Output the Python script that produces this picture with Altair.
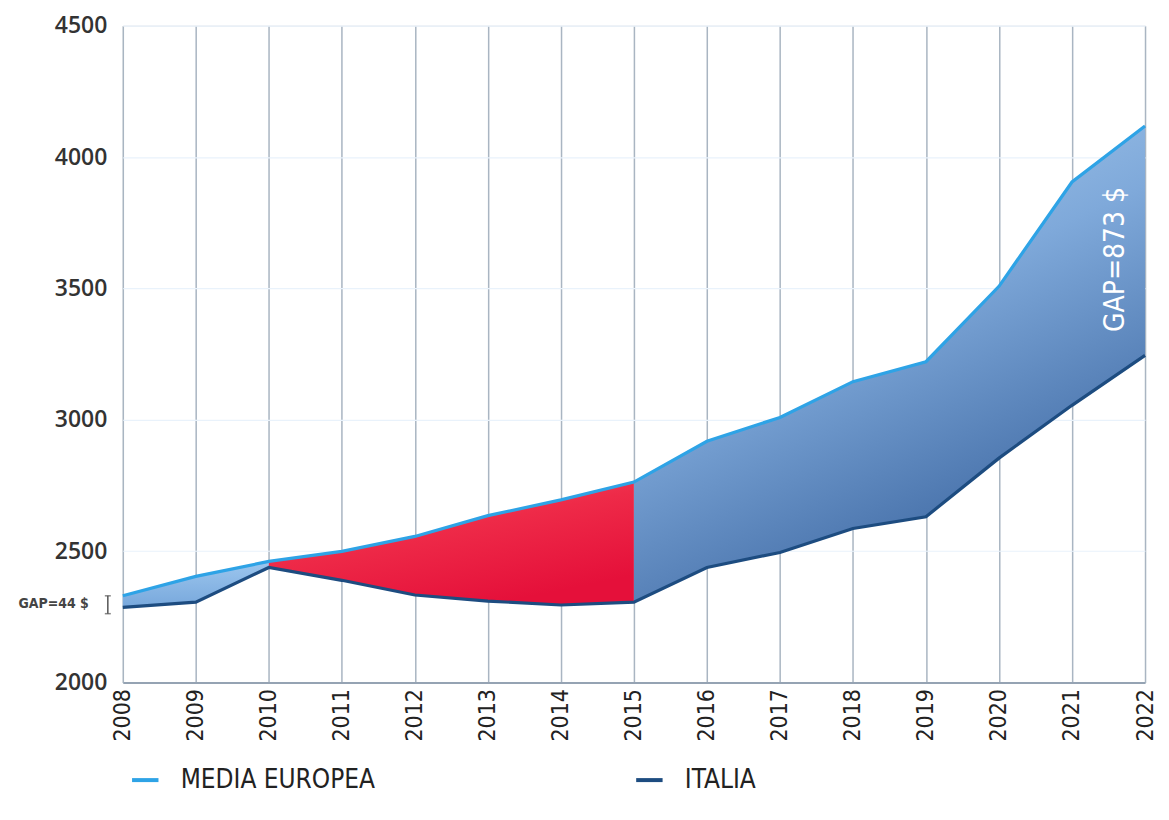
import altair as alt
import pandas as pd

years = list(range(2008, 2023))
europa = [2330, 2404, 2461, 2499, 2556, 2635, 2695, 2763, 2918, 3009, 3145, 3221, 3508, 3905, 4118]
italia = [2286, 2306, 2438, 2389, 2333, 2310, 2295, 2306, 2438, 2495, 2586, 2631, 2854, 3055, 3245]
series_names = ["MEDIA EUROPEA", "ITALIA"]
series_colors = ["#2ea3e6", "#1d4c80"]

gap_labels = ["GAP=44 $", "GAP=873 $"]

COND = "Liberation Sans Narrow, DejaVu Sans Condensed, Roboto, sans-serif"

wide = pd.DataFrame({"year": years, "europa": europa, "italia": italia})
seg1 = wide[(wide.year >= 2008) & (wide.year <= 2010)]
seg2 = wide[(wide.year >= 2010) & (wide.year <= 2015)]
seg3 = wide[(wide.year >= 2015) & (wide.year <= 2022)]

long = pd.DataFrame({
    "year": years * 2,
    "value": europa + italia,
    "serie": [series_names[0]] * len(years) + [series_names[1]] * len(years),
})

xenc = alt.X("year:Q", scale=alt.Scale(domain=[2008, 2022], nice=False, zero=False),
             axis=alt.Axis(values=years, format="d", labelAngle=-90, title=None,
                           labelFont=COND, labelFontSize=23, labelColor="#222",
                           grid=True, gridColor="#a9b5c2", gridWidth=1.5,
                           ticks=False, domainColor="#95a3b3", domainWidth=2,
                           labelPadding=6))
yenc = alt.Y("europa:Q", scale=alt.Scale(domain=[2000, 4500], nice=False, zero=False),
             axis=alt.Axis(values=[2000, 2500, 3000, 3500, 4000, 4500], format="d", title=None,
                           labelFont="Open Sans", labelFontWeight=600, labelFontSize=23,
                           labelColor="#333", grid=True, gridColor="#e9f2fb", gridWidth=1.2,
                           ticks=False, domain=False, labelPadding=16))

blue_grad = alt.Gradient(gradient="linear",
                         stops=[alt.GradientStop(color="#b4d6f4", offset=0),
                                alt.GradientStop(color="#7fa9da", offset=0.5),
                                alt.GradientStop(color="#3e68a2", offset=1)],
                         x1=0, y1=0, x2=0.5, y2=1)
blue_grad_small = alt.Gradient(gradient="linear",
                               stops=[alt.GradientStop(color="#9cc6ee", offset=0),
                                      alt.GradientStop(color="#78a8dc", offset=1)],
                               x1=0, y1=0, x2=0, y2=1)
red_grad = alt.Gradient(gradient="linear",
                        stops=[alt.GradientStop(color="#f5566d", offset=0),
                               alt.GradientStop(color="#ee2a48", offset=0.5),
                               alt.GradientStop(color="#e5103a", offset=1)],
                        x1=0, y1=0, x2=0.6, y2=1)

a1 = alt.Chart(seg1).mark_area(color=blue_grad_small).encode(x=xenc, y=yenc, y2="italia:Q")
a2 = alt.Chart(seg2).mark_area(color=red_grad).encode(x=xenc, y=yenc, y2="italia:Q")
a3 = alt.Chart(seg3).mark_area(color=blue_grad).encode(x=xenc, y=yenc, y2="italia:Q")

lines = alt.Chart(long).mark_line(strokeWidth=3.2).encode(
    x=alt.X("year:Q"),
    y=alt.Y("value:Q"),
    color=alt.Color("serie:N", sort=series_names,
                    scale=alt.Scale(domain=series_names, range=series_colors),
                    legend=alt.Legend(title=None, orient="none", direction="horizontal",
                                      legendX=7, legendY=740,
                                      symbolType="stroke", symbolSize=700, symbolStrokeWidth=4,
                                      labelFont=COND, labelFontSize=26, labelColor="#222",
                                      labelOffset=20, columnPadding=253, labelLimit=400)),
)

ann1 = pd.DataFrame({"year": [2008], "v": [2300], "label": [gap_labels[0]]})
ann2 = pd.DataFrame({"year": [2022], "v": [3610], "label": [gap_labels[1]]})
br = pd.DataFrame({"year": [2008], "top": [2330], "bot": [2262]})

t1 = alt.Chart(ann1).mark_text(align="right", baseline="middle", xOffset=-34, font=COND,
                               fontSize=14, fontWeight="bold", color="#444").encode(
    x="year:Q", y="v:Q", text="label:N")
t2 = alt.Chart(ann2).mark_text(align="center", baseline="middle", xOffset=-29, angle=270,
                               font=COND, fontSize=28, color="white").encode(
    x="year:Q", y="v:Q", text="label:N")
bracket = alt.Chart(br).mark_rule(color="#555", strokeWidth=1.5, xOffset=-15).encode(
    x="year:Q", y="top:Q", y2="bot:Q")
cap1 = alt.Chart(br).mark_tick(color="#555", thickness=1.5, size=6, orient="horizontal",
                               xOffset=-15).encode(x="year:Q", y="top:Q")
cap2 = alt.Chart(br).mark_tick(color="#555", thickness=1.5, size=6, orient="horizontal",
                               xOffset=-15).encode(x="year:Q", y="bot:Q")

chart = alt.layer(a1, a2, a3, lines, t1, t2, bracket, cap1, cap2).properties(
    width=1024, height=658
).configure_view(fill="#d7e8f9", strokeWidth=0).configure(
    padding={"left": 10, "top": 6, "right": 4, "bottom": 4}
)

chart.save("out.html", embed_options={"renderer": "svg", "actions": False})
